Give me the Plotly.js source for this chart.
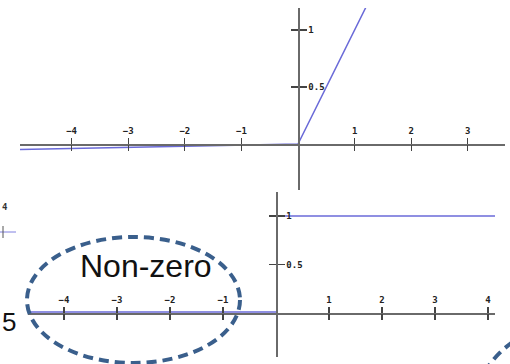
<!DOCTYPE html>
<html>
<head>
<meta charset="utf-8">
<script src="https://cdn.plot.ly/plotly-3.0.1.min.js"></script>
<style>html,body{margin:0;padding:0;background:#fff;}#chart{width:510px;height:364px;}</style>
</head>
<body>
<div id="chart"></div>
<script>
// ---- data ----
// Leaky ReLU (top)
const reluX = [-5, 0, 1.3];
const reluY = [-0.05, 0, 1.3];
// Derivative of Leaky ReLU (bottom)
const gradX = [-5, 0, null, 0.1, 4.3];
const gradY = [0.01, 0.01, null, 1, 1];
// tick values / labels
const topXTicks = [-4, -3, -2, -1, 1, 2, 3];
const topXLabels = ["\u22124", "\u22123", "\u22122", "\u22121", "1", "2", "3"];
const botXTicks = [-4, -3, -2, -1, 1, 2, 3, 4];
const botXLabels = ["\u22124", "\u22123", "\u22122", "\u22121", "1", "2", "3", "4"];
const yTicks = [0.5, 1];
const yLabels = ["0.5", "1"];
const noteText = "Non-zero";

// ---- layout helpers (pixel -> paper) ----
const W = 510, H = 364;
const fx = p => p / W;
const fy = p => 1 - p / H;

const lineColor = "#6a6ad8";
const axisColor = "#6a6a6a";
const tickFont = {family: "DejaVu Sans Mono", size: 9, color: "#222", weight: "bold"};

function xAxis(domain, range, pos, ticks, labels, main, overlay) {
  const a = {
    domain: domain, range: range, anchor: "free", position: pos,
    showgrid: false, zeroline: false, showline: main, linecolor: axisColor, linewidth: 1.5,
    tickmode: "array", tickvals: ticks, ticktext: labels,
    ticks: "outside", ticklen: 6, tickwidth: 1.3, tickcolor: "#444",
    side: main ? "top" : "bottom", showticklabels: main, tickfont: tickFont, fixedrange: true
  };
  if (overlay) { a.overlaying = overlay; delete a.domain; }
  return a;
}
function yAxis(domain, range, pos, main, overlay) {
  const a = {
    domain: domain, range: range, anchor: "free", position: pos,
    showgrid: false, zeroline: false, showline: main, linecolor: axisColor, linewidth: 1.5,
    tickmode: "array", tickvals: yTicks, ticktext: yLabels,
    ticks: "outside", ticklen: 7, tickwidth: 1.3, tickcolor: "#444",
    side: main ? "right" : "left", showticklabels: main, tickfont: tickFont, fixedrange: true
  };
  if (overlay) { a.overlaying = overlay; delete a.domain; }
  return a;
}

// top plot geometry
const tXD = [fx(20), fx(505)], tXR = [(20 - 298) / 56.6, (505 - 298) / 56.6];
const tYD = [fy(190), fy(8)], tYR = [(144 - 190) / 114, (144 - 8) / 114];
// bottom plot geometry
const bXD = [fx(28), fx(495)], bXR = [(28 - 276) / 53, (495 - 276) / 53];
const bYD = [fy(357), fy(192)], bYR = [(313 - 357) / 97, (313 - 192) / 97];

const traces = [
  {x: reluX, y: reluY, xaxis: "x", yaxis: "y", mode: "lines", line: {color: lineColor, width: 1.5}, hoverinfo: "skip", showlegend: false},
  {x: gradX, y: gradY, xaxis: "x2", yaxis: "y2", mode: "lines", line: {color: lineColor, width: 1.6}, hoverinfo: "skip", showlegend: false},
  {x: reluX, y: reluY, xaxis: "x3", yaxis: "y3", mode: "lines", line: {color: "rgba(0,0,0,0)", width: 0}, hoverinfo: "skip", showlegend: false},
  {x: gradX, y: gradY, xaxis: "x4", yaxis: "y4", mode: "lines", line: {color: "rgba(0,0,0,0)", width: 0}, hoverinfo: "skip", showlegend: false}
];

const layout = {
  width: W, height: H,
  margin: {l: 0, r: 0, t: 0, b: 0},
  paper_bgcolor: "#ffffff", plot_bgcolor: "rgba(0,0,0,0)",
  showlegend: false,
  xaxis: xAxis(tXD, tXR, fy(144), topXTicks, topXLabels, true),
  yaxis: yAxis(tYD, tYR, fx(298), true),
  xaxis3: xAxis(tXD, tXR, fy(144), topXTicks, topXLabels, false, "x"),
  yaxis3: yAxis(tYD, tYR, fx(298), false, "y"),
  xaxis2: xAxis(bXD, bXR, fy(313), botXTicks, botXLabels, true),
  yaxis2: yAxis(bYD, bYR, fx(276), true),
  xaxis4: xAxis(bXD, bXR, fy(313), botXTicks, botXLabels, false, "x2"),
  yaxis4: yAxis(bYD, bYR, fx(276), false, "y2"),
  shapes: [
    {type: "circle", xref: "paper", yref: "paper", x0: fx(27), x1: fx(240), y0: fy(363), y1: fy(237),
     line: {color: "#3a5f8c", width: 4, dash: "10px,6px"}, layer: "above"},
    {type: "circle", xref: "paper", yref: "paper", x0: fx(470), x1: fx(670), y0: fy(524), y1: fy(324),
     line: {color: "#3a5f8c", width: 4, dash: "10px,6px"}, layer: "above"},
    {type: "line", xref: "paper", yref: "paper", x0: 0, x1: fx(16), y0: fy(232), y1: fy(232),
     line: {color: "#8080e0", width: 1}},
    {type: "line", xref: "paper", yref: "paper", x0: fx(3), x1: fx(3), y0: fy(226), y1: fy(238),
     line: {color: "#555", width: 1}}
  ],
  annotations: [
    {text: noteText, xref: "paper", yref: "paper", x: fx(146), y: fy(266), xanchor: "center", yanchor: "middle",
     showarrow: false, font: {family: "Liberation Sans", size: 32, color: "#111"}},
    {text: "4", xref: "paper", yref: "paper", x: 0, y: fy(207), xanchor: "left", yanchor: "middle",
     showarrow: false, font: {family: "DejaVu Sans Mono", size: 9, color: "#333", weight: "bold"}},
    {text: "5", xref: "paper", yref: "paper", x: 0, y: fy(322), xanchor: "left", yanchor: "middle",
     showarrow: false, font: {family: "Liberation Sans", size: 26, color: "#111"}}
  ]
};

Plotly.newPlot("chart", traces, layout, {staticPlot: true, displayModeBar: false});
</script>
</body>
</html>
